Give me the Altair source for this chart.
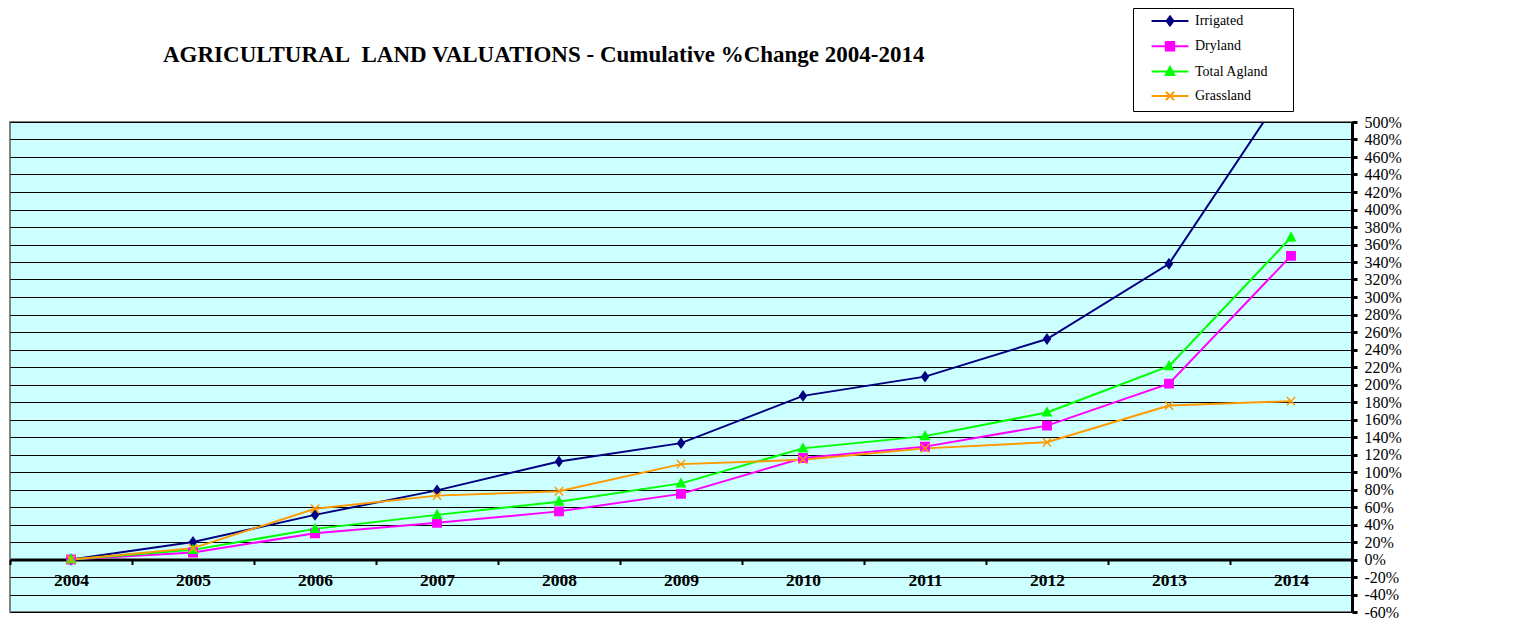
import altair as alt
import pandas as pd

years = [str(y) for y in range(2004, 2015)]
irrigated = [0, 20, 51, 79, 112, 133, 187, 209, 252, 338, 547]
dryland = [0, 8, 30, 42, 55, 75, 116, 129, 153, 201, 347]
total_agland = [0, 11, 35, 51, 66, 87, 127, 141, 168, 221, 368]
grassland = [0, 13, 58, 73, 78, 109, 114, 127, 134, 176, 181]

series_names = ["Irrigated", "Dryland", "Total Agland", "Grassland"]
series_colors = ["#000080", "#FF00FF", "#00FF00", "#FF9900"]
y_ticks = list(range(-60, 501, 20))

marker_paths = [
    "M0,-1.1L0.8,0L0,1.1L-0.8,0Z",
    "M-1,-1H1V1H-1Z",
    "M0,-1.1L1,0.8H-1Z",
    "M-1,-1L1,1M-1,1L1,-1",
]
legend_paths = ["M27,0M-4.4,0H4.4" + p for p in marker_paths]

rows = []
for name, vals in zip(series_names, [irrigated, dryland, total_agland, grassland]):
    for yr, v in zip(years, vals):
        rows.append({"Year": yr, "Series": name, "Change": v})
df = pd.DataFrame(rows)

serif = "Liberation Serif"

x_enc = alt.X(
    "Year:O",
    bandPosition=0.5,
    scale=alt.Scale(type="band", paddingInner=0, paddingOuter=0),
    axis=alt.Axis(
        orient="bottom", offset=-52.5, title=None, labelAngle=0,
        domainColor="black", domainWidth=3,
        tickColor="black", tickWidth=2, tickSize=5, tickBand="extent",
        labelFont=serif, labelFontWeight="bold", labelFontSize=17.5,
        labelColor="black", labelPadding=7, grid=False,
    ),
)
y_enc = alt.Y(
    "Change:Q",
    scale=alt.Scale(domain=[-60, 500], nice=False, zero=False),
    axis=alt.Axis(
        orient="right", values=y_ticks, labelExpr="datum.value + '%'",
        title=None, grid=True, gridColor="black", gridWidth=1, gridOpacity=1,
        domainColor="black", domainWidth=3,
        tickColor="black", tickWidth=3, tickSize=5,
        labelFont=serif, labelFontSize=16, labelColor="black", labelPadding=7,
        labelOverlap=False,
    ),
)
col_scale = alt.Scale(domain=series_names, range=series_colors)

lines = alt.Chart(df).mark_line(strokeWidth=2, clip=True).encode(
    x=x_enc, y=y_enc,
    color=alt.Color("Series:N", scale=col_scale, legend=None),
)

points = alt.Chart(df).mark_point(filled=True, size=70, strokeWidth=1.5, opacity=1, clip=True).encode(
    x=x_enc, y=y_enc,
    fill=alt.Fill("Series:N", scale=col_scale, legend=None),
    stroke=alt.Stroke("Series:N", scale=col_scale, legend=None),
    shape=alt.Shape("Series:N", scale=alt.Scale(domain=series_names, range=marker_paths), legend=None),
)

leg = alt.Legend(
    title=None,
    orient="none", legendX=1123, legendY=-114,
    labelFont=serif, labelFontSize=14, labelColor="black",
    strokeColor="black", fillColor="white", padding=6,
    rowPadding=7.3, symbolSize=70, symbolStrokeWidth=2,
    symbolOffset=24, labelOffset=18, labelLimit=200,
)
legend_layer = alt.Chart(df).transform_filter("false").mark_point(filled=True, opacity=1).encode(
    x=x_enc, y=y_enc,
    fill=alt.Fill("Series:N", scale=col_scale, legend=leg),
    stroke=alt.Stroke("Series:N", scale=col_scale, legend=leg),
    shape=alt.Shape("Series:N", scale=alt.Scale(domain=series_names, range=legend_paths), legend=leg),
)

chart = (
    alt.layer(lines, points, legend_layer)
    .resolve_scale(shape="independent")
    .resolve_legend(fill="independent", stroke="independent", shape="independent", color="independent")
    .properties(
        width=1342, height=490,
        title=alt.TitleParams(
            text="AGRICULTURAL\u00a0 LAND VALUATIONS - Cumulative %Change 2004-2014",
            anchor="start", frame="group", dx=153, dy=137, offset=60, baseline="alphabetic",
            font=serif, fontSize=23, fontWeight="bold", color="black",
        ),
        autosize=alt.AutoSizeParams(type="none"),
        padding={"left": 2, "top": 114, "right": 150, "bottom": 8},
        background="white",
    )
    .configure_view(fill="#CCFFFF", stroke="#808080", strokeWidth=2)
)

chart.save("out.html", embed_options={"renderer": "svg", "actions": False})
